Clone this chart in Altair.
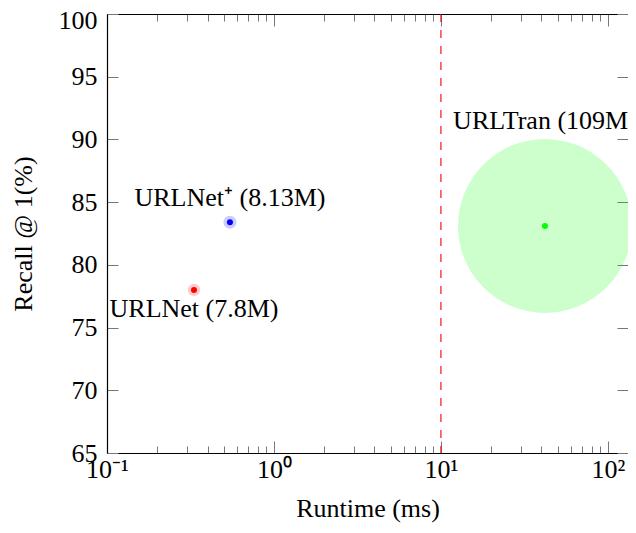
import altair as alt
import pandas as pd

# ---- data ----
names = ["URLNet", "URLNet+", "URLTran"]
point_labels = ["URLNet (7.8M)", "URLNet⁺ (8.13M)", "URLTran (109M)"]
runtime_ms = [0.332, 0.545, 42.0]
recall_at_1 = [78.0, 83.4, 83.1]
params_m = [7.8, 8.13, 109.0]
point_colors = ["#ff0000", "#0000ff", "#00ff00"]
threshold_ms = [10]

x_tick_values = [0.1, 0.2, 0.3, 0.4, 0.5, 0.6, 0.7, 0.8, 0.9,
                 1, 2, 3, 4, 5, 6, 7, 8, 9,
                 10, 20, 30, 40, 50, 60, 70, 80, 90, 100]
x_major_ticks = [0.1, 1, 10, 100]
x_major_labels = ["10⁻¹", "10⁰", "10¹", "10²"]
y_tick_values = [65, 70, 75, 80, 85, 90, 95, 100]

df = pd.DataFrame({
    "name": names,
    "label": point_labels,
    "runtime": runtime_ms,
    "recall": recall_at_1,
    "params": params_m,
})
thr = pd.DataFrame({"runtime": threshold_ms})

FONT = "Liberation Serif"
FS = 26

label_expr = " : ".join(
    f"datum.value == {v} ? '{l}'" for v, l in zip(x_major_ticks, x_major_labels)
) + " : ''"
major_list = "[" + ",".join(str(v) for v in x_major_ticks) + "]"
x_tick_size = {"expr": f"indexof({major_list}, datum.value) >= 0 ? -12 : -7"}

x_scale = alt.Scale(type="log", domain=[0.1, 132], nice=False)
y_scale = alt.Scale(domain=[65, 100], nice=False, zero=False)

bottom_axis = alt.Axis(orient="bottom", values=x_tick_values, labelExpr=label_expr,
                       tickSize=x_tick_size, labelPadding=15, grid=False,
                       title="Runtime (ms)", titlePadding=8, labelFlush=False,
                       labelOverlap=False)
left_axis = alt.Axis(orient="left", values=y_tick_values, tickSize={"expr": "-11"},
                     labelPadding=21, grid=False, title="Recall @ 1(%)",
                     titlePadding=22, labelOverlap=False, labelFlush=False,
                     labelOffset={"expr": "datum.value == 100 ? 6 : 0"})
top_axis = alt.Axis(orient="top", values=x_tick_values, tickSize=x_tick_size,
                    labels=False, grid=False, title=None)
right_axis = alt.Axis(orient="right", values=y_tick_values, tickSize={"expr": "-11"},
                      labels=False, grid=False, title=None, domain=False)

color = alt.Color("name:N", scale=alt.Scale(domain=names, range=point_colors), legend=None)

rule = alt.Chart(thr).mark_rule(color="#ff0000", opacity=0.75, strokeWidth=1.5,
                                strokeDash=[8, 8]).encode(
    x=alt.X("runtime:Q", scale=x_scale, axis=bottom_axis),
)

halo = alt.Chart(df).mark_circle(opacity=0.2, strokeWidth=0).encode(
    x=alt.X("runtime:Q", scale=x_scale, axis=top_axis),
    y=alt.Y("recall:Q", scale=y_scale, axis=right_axis),
    size=alt.Size("params:Q", scale=alt.Scale(type="pow", exponent=2, domain=[0, 109],
                                              range=[0, 30276], nice=False, zero=True),
                  legend=None),
    color=color,
)

dots = alt.Chart(df).mark_circle(opacity=1, size=36, strokeWidth=0).encode(
    x=alt.X("runtime:Q", scale=x_scale, axis=None),
    y=alt.Y("recall:Q", scale=y_scale, axis=left_axis),
    color=color,
)

def text_layer(name, dy):
    return alt.Chart(df).transform_filter(alt.datum.name == name).mark_text(
        font=FONT, fontSize=FS, color="black", align="center", baseline="middle", dy=dy
    ).encode(
        x=alt.X("runtime:Q", scale=x_scale, axis=None),
        y=alt.Y("recall:Q", scale=y_scale, axis=None),
        text="label:N",
    )

texts = [text_layer("URLNet", 19), text_layer("URLNet+", -24), text_layer("URLTran", -105)]

chart = alt.layer(rule, halo, dots, *texts).resolve_axis(
    x="independent", y="independent"
).properties(
    width=521, height=439,
    autosize=alt.AutoSizeParams(type="none"),
    padding={"left": 99, "top": 6, "right": 0, "bottom": 70},
).configure_view(stroke=None).configure_axis(
    labelFont=FONT, titleFont=FONT, labelFontSize=FS, titleFontSize=FS,
    labelColor="black", titleColor="black", titleFontWeight="normal",
    domainColor="black", domainWidth=1.2, tickColor="#777777", tickWidth=1,
)

chart.save("out.html", embed_options={"renderer": "svg", "actions": False})
